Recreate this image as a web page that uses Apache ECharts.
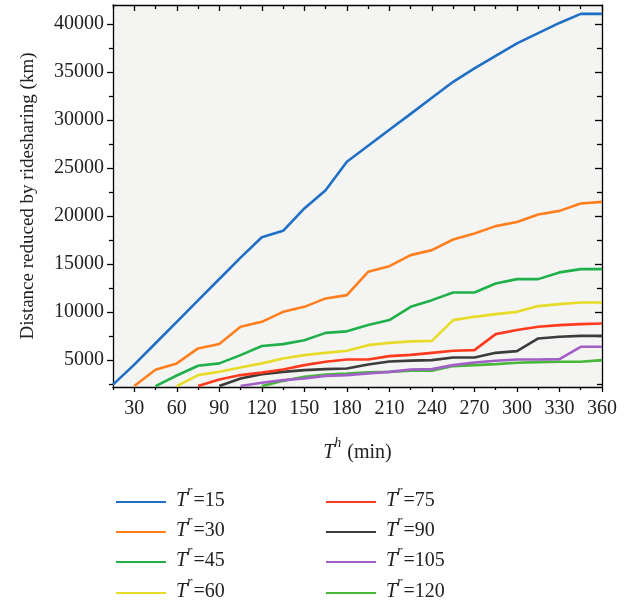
<!DOCTYPE html>
<html>
<head>
<meta charset="utf-8">
<script src="https://cdn.jsdelivr.net/npm/echarts@6/dist/echarts.min.js"></script>
<style>html,body{margin:0;padding:0;background:#fff;}#c{width:629px;height:608px;}</style>
</head>
<body>
<div id="c"></div>
<script>
// ---- data ----
const xValues = [15,30,45,60,75,90,105,120,135,150,165,180,195,210,225,240,255,270,285,300,315,330,345,360];
const seriesNames = ['15','30','45','60','75','90','105','120'];
const t15  = [2450,4530,6760,8990,11220,13450,15680,17800,18470,20800,22700,25660,27330,29000,30660,32330,34000,35400,36700,38000,39070,40130,41080,41080];
const t30  = [null,2300,4000,4660,6220,6670,8470,8990,10030,10550,11430,11770,14200,14790,15940,16460,17570,18200,18960,19400,20180,20550,21320,21490];
const t45  = [null,null,2300,3400,4410,4660,5520,6470,6670,7080,7840,8000,8650,9170,10550,11250,12050,12050,12990,13440,13440,14140,14480,14480];
const t60  = [null,null,null,2300,3440,3780,4240,4660,5170,5520,5760,5970,6560,6800,6950,7010,9170,9510,9790,10030,10630,10830,11010,11010];
const t75  = [null,null,null,null,2300,2990,3440,3700,4030,4480,4830,5070,5070,5420,5550,5760,5970,6040,7710,8130,8470,8650,8750,8820];
const t90  = [null,null,null,null,null,2300,3090,3540,3780,3960,4060,4130,4550,4850,4950,5000,5280,5280,5760,5940,7260,7430,7530,7530];
const t105 = [null,null,null,null,null,null,2300,2640,2920,3090,3360,3440,3610,3780,4030,4060,4480,4760,4930,5070,5070,5100,6390,6390];
const t120 = [null,null,null,null,null,null,null,2290,2840,3260,3510,3610,3720,3780,3890,3890,4380,4480,4580,4720,4790,4830,4830,5000];
const seriesValues = [t15,t30,t45,t60,t75,t90,t105,t120];
const colors = ['#1f6fc4','#ff7f1e','#1fb04a','#e6dc28','#ff3a1e','#3c3c3c','#a25fc8','#48b83a'];
const xMajor = [30,60,90,120,150,180,210,240,270,300,330,360];
const xMinor = [15,45,75,105,135,165,195,225,255,285,315,345];
const yMajor = [5000,10000,15000,20000,25000,30000,35000,40000];
const yMinor = [2500,7500,12500,17500,22500,27500,32500,37500];

const FONT = 'Liberation Serif';
const X_MIN = 15, X_MAX = 360, Y_MIN = 2200, Y_MAX = 42000;
const lineStyle = {color:'#000', width:1.3};

function sname(v){ return 'T^r=' + v; }

const series = seriesValues.map((arr, k) => ({
  type: 'line',
  name: sname(seriesNames[k]),
  xAxisIndex: 0, yAxisIndex: 0,
  data: xValues.map((x, i) => [x, arr[i]]),
  symbol: 'none',
  lineStyle: {width: 2.6, color: colors[k]},
  itemStyle: {color: colors[k]},
  z: 10 - k
}));

const supStyle = {fontFamily: FONT, fontStyle: 'italic', fontSize: 14, color: '#222', lineHeight: 14, verticalAlign: 'bottom', padding: [0, 1, 13, 0]};
const richLegend = {
  i: {fontFamily: FONT, fontStyle: 'italic', fontSize: 20, color: '#222', lineHeight: 24, verticalAlign: 'bottom'},
  s: supStyle,
  n: {fontFamily: FONT, fontSize: 20, color: '#222', lineHeight: 24, verticalAlign: 'bottom'}
};

const rowY = [502, 532, 562, 593];
const legends = seriesNames.map((v, k) => ({
  show: true,
  selectedMode: false,
  data: [sname(v)],
  left: k < 4 ? 116 : 326,
  top: rowY[k % 4] - 18,
  padding: 0,
  itemWidth: 50,
  itemHeight: 2,
  icon: 'rect',
  formatter: () => '{i|T}{s|r}{n|=' + v + '}',
  textStyle: {rich: richLegend, padding: [0,0,6,5]}
}));

const plain = v => String(v);

const option = {
  animation: false,
  backgroundColor: '#fff',
  legend: legends,
  grid: [
    {left:113, right:27, top:5, bottom:221, show:true, backgroundColor:'#f4f4f2', borderWidth:0, outerBoundsMode:'none'},
    {left:113, right:27, top:5, bottom:221, show:false, outerBoundsMode:'none'}
  ],
  xAxis: [
    {type:'value', gridIndex:0, position:'bottom', min:X_MIN, max:X_MAX,
     axisLine:{show:true, onZero:false, lineStyle},
     axisTick:{show:true, customValues:xMajor, inside:false, length:5, lineStyle},
     axisLabel:{show:true, customValues:xMajor, formatter:plain, margin:12, fontFamily:FONT, fontSize:20, color:'#222'},
     splitLine:{show:false},
     name:'{i|T}{s|h}{n| (min)}', nameLocation:'middle', nameGap:52,
     nameTextStyle:{fontFamily:FONT, fontSize:20, color:'#222', rich: richLegend}
    },
    {type:'value', gridIndex:0, position:'top', min:X_MIN, max:X_MAX,
     axisLine:{show:true, onZero:false, lineStyle},
     axisTick:{show:true, customValues:xMajor, inside:true, length:6, lineStyle},
     axisLabel:{show:false}, splitLine:{show:false}},
    {type:'value', gridIndex:1, position:'bottom', min:X_MIN, max:X_MAX,
     axisLine:{show:false, onZero:false},
     axisTick:{show:true, customValues:xMinor, inside:false, length:3, lineStyle},
     axisLabel:{show:false}, splitLine:{show:false}},
    {type:'value', gridIndex:1, position:'top', min:X_MIN, max:X_MAX,
     axisLine:{show:false, onZero:false},
     axisTick:{show:true, customValues:xMinor, inside:true, length:4, lineStyle},
     axisLabel:{show:false}, splitLine:{show:false}}
  ],
  yAxis: [
    {type:'value', gridIndex:0, position:'left', min:Y_MIN, max:Y_MAX,
     axisLine:{show:true, onZero:false, lineStyle},
     axisTick:{show:true, customValues:yMajor, inside:false, length:6, lineStyle},
     axisLabel:{show:true, customValues:yMajor, formatter:plain, margin:9, fontFamily:FONT, fontSize:20, color:'#222'},
     splitLine:{show:false},
     name:'Distance reduced by ridesharing (km)', nameLocation:'middle', nameGap:75, nameRotate:90,
     nameTextStyle:{fontFamily:FONT, fontSize:19, color:'#222'}
    },
    {type:'value', gridIndex:0, position:'right', min:Y_MIN, max:Y_MAX,
     axisLine:{show:true, onZero:false, lineStyle},
     axisTick:{show:true, customValues:yMajor, inside:true, length:7, lineStyle},
     axisLabel:{show:false}, splitLine:{show:false}},
    {type:'value', gridIndex:1, position:'left', min:Y_MIN, max:Y_MAX,
     axisLine:{show:false, onZero:false},
     axisTick:{show:true, customValues:yMinor, inside:false, length:4, lineStyle},
     axisLabel:{show:false}, splitLine:{show:false}},
    {type:'value', gridIndex:1, position:'right', min:Y_MIN, max:Y_MAX,
     axisLine:{show:false, onZero:false},
     axisTick:{show:true, customValues:yMinor, inside:true, length:5, lineStyle},
     axisLabel:{show:false}, splitLine:{show:false}}
  ],
  series: series
};

const chart = echarts.init(document.getElementById('c'), null, {renderer:'canvas'});
chart.setOption(option);
</script>
</body>
</html>
